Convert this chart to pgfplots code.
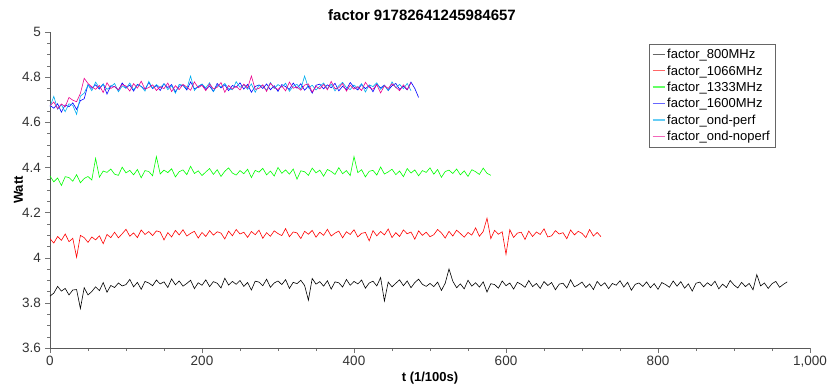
\documentclass[border=0pt]{standalone}
\usepackage{fontspec}
\setmainfont{Liberation Sans}
\usepackage{pgfplots}
\pgfplotsset{compat=1.18}
\begin{document}
\fontsize{12}{14}\selectfont
\begin{tikzpicture}
\begin{axis}[
 scale only axis, width=760pt, height=316pt,
 xmin=0, xmax=1000, ymin=3.6, ymax=5,
 axis lines=left, axis line style={-, draw=black!65},
 xtick={0,200,400,600,800,1000}, minor x tick num=3,
 ytick={3.6,3.8,4,4.2,4.4,4.6,4.8,5}, minor y tick num=3,
 tick align=outside, major tick length=5pt, minor tick length=3pt,
 every tick/.style={black!55},
 /pgf/number format/assume math mode=true,
 tick label style={font=\fontsize{13.5}{15}\selectfont, text=black!80},
 xticklabel style={yshift=1pt},
 title={\textbf{factor 91782641245984657}},
 title style={font=\fontsize{15}{17}\selectfont, yshift=1pt, xshift=-8pt},
 xlabel={\textbf{t (1/100s)}}, ylabel={\textbf{Watt}},
 label style={font=\fontsize{13}{15}\selectfont},
 xlabel style={at={(axis description cs:0.5,0)}, anchor=north, yshift=-20pt},
 ylabel style={at={(axis description cs:-0.03,0.5)}, anchor=south, rotate=0},
 legend style={at={(0.954,0.962)}, anchor=north east, draw=black!60,
   font=\fontsize{13}{15}\selectfont, row sep=1.2pt, inner sep=3pt},
 legend cell align=left,
 legend image code/.code={\draw[#1, line width=1.4pt, opacity=0.6] (0pt,0.5pt) -- (0.42cm,0.5pt);},
 every axis plot/.append style={line width=0.6pt, mark=none},
]
\addplot[color=black] coordinates {
(0,3.830)(5,3.843)(10,3.873)(15,3.852)(20,3.864)(25,3.835)(30,3.857)(35,3.859)(40,3.775)(45,3.867)
(50,3.835)(55,3.850)(60,3.871)(65,3.854)(70,3.890)(75,3.847)(80,3.877)(85,3.868)(90,3.888)(95,3.875)
(100,3.881)(105,3.904)(110,3.871)(115,3.891)(120,3.860)(125,3.895)(130,3.888)(135,3.876)(140,3.901)(145,3.884)
(150,3.893)(155,3.868)(160,3.906)(165,3.880)(170,3.897)(175,3.874)(180,3.886)(185,3.900)(190,3.863)(195,3.889)
(200,3.878)(205,3.902)(210,3.872)(215,3.894)(220,3.887)(225,3.866)(230,3.909)(235,3.879)(240,3.895)(245,3.882)
(250,3.899)(255,3.873)(260,3.890)(265,3.857)(270,3.896)(275,3.892)(280,3.876)(285,3.905)(290,3.869)(295,3.888)
(300,3.897)(305,3.881)(310,3.903)(315,3.864)(320,3.891)(325,3.885)(330,3.900)(335,3.877)(340,3.812)(345,3.908)
(350,3.883)(355,3.894)(360,3.874)(365,3.898)(370,3.861)(375,3.893)(380,3.889)(385,3.870)(390,3.904)(395,3.878)
(400,3.895)(405,3.884)(410,3.901)(415,3.865)(420,3.888)(425,3.896)(430,3.875)(435,3.912)(440,3.808)(445,3.892)
(450,3.871)(455,3.887)(460,3.902)(465,3.876)(470,3.897)(475,3.867)(480,3.890)(485,3.905)(490,3.882)(495,3.873)
(500,3.886)(505,3.872)(510,3.892)(515,3.855)(520,3.887)(525,3.950)(530,3.896)(535,3.867)(540,3.884)(545,3.862)
(550,3.900)(555,3.874)(560,3.889)(565,3.870)(570,3.893)(575,3.848)(580,3.885)(585,3.881)(590,3.865)(595,3.897)
(600,3.876)(605,3.888)(610,3.861)(615,3.891)(620,3.882)(625,3.869)(630,3.899)(635,3.872)(640,3.886)(645,3.864)
(650,3.894)(655,3.877)(660,3.890)(665,3.858)(670,3.883)(675,3.887)(680,3.866)(685,3.902)(690,3.871)(695,3.880)
(700,3.892)(705,3.868)(710,3.884)(715,3.859)(720,3.895)(725,3.875)(730,3.889)(735,3.863)(740,3.886)(745,3.878)
(750,3.898)(755,3.870)(760,3.891)(765,3.856)(770,3.882)(775,3.888)(780,3.873)(785,3.893)(790,3.867)(795,3.885)
(800,3.860)(805,3.890)(810,3.881)(815,3.869)(820,3.897)(825,3.874)(830,3.894)(835,3.865)(840,3.884)(845,3.852)
(850,3.887)(855,3.892)(860,3.871)(865,3.889)(870,3.876)(875,3.896)(880,3.862)(885,3.883)(890,3.868)(895,3.899)
(900,3.879)(905,3.866)(910,3.891)(915,3.872)(920,3.886)(925,3.858)(930,3.925)(935,3.875)(940,3.888)(945,3.864)
(950,3.885)(955,3.895)(960,3.869)(965,3.882)(970,3.893)
};
\addlegendentry{factor\_800MHz}
\addplot[color=red] coordinates {
(0,4.084)(5,4.065)(10,4.094)(15,4.077)(20,4.105)(25,4.071)(30,4.086)(35,4.002)(40,4.099)(45,4.089)
(50,4.068)(55,4.092)(60,4.079)(65,4.097)(70,4.062)(75,4.103)(80,4.089)(85,4.113)(90,4.088)(95,4.106)
(100,4.126)(105,4.095)(110,4.110)(115,4.089)(120,4.123)(125,4.103)(130,4.116)(135,4.098)(140,4.119)(145,4.114)
(150,4.079)(155,4.111)(160,4.092)(165,4.121)(170,4.101)(175,4.124)(180,4.096)(185,4.108)(190,4.117)(195,4.087)
(200,4.112)(205,4.094)(210,4.120)(215,4.100)(220,4.115)(225,4.109)(230,4.083)(235,4.118)(240,4.097)(245,4.125)
(250,4.105)(255,4.113)(260,4.090)(265,4.116)(270,4.102)(275,4.122)(280,4.086)(285,4.111)(290,4.095)(295,4.119)
(300,4.107)(305,4.098)(310,4.129)(315,4.093)(320,4.114)(325,4.110)(330,4.085)(335,4.117)(340,4.104)(345,4.121)
(350,4.091)(355,4.113)(360,4.099)(365,4.126)(370,4.096)(375,4.109)(380,4.118)(385,4.088)(390,4.115)(395,4.103)
(400,4.124)(405,4.092)(410,4.108)(415,4.112)(420,4.075)(425,4.120)(430,4.097)(435,4.116)(440,4.101)(445,4.127)
(450,4.089)(455,4.111)(460,4.094)(465,4.123)(470,4.106)(475,4.114)(480,4.082)(485,4.119)(490,4.099)(495,4.113)
(500,4.093)(505,4.102)(510,4.125)(515,4.110)(520,4.087)(525,4.117)(530,4.096)(535,4.122)(540,4.107)(545,4.091)
(550,4.112)(555,4.100)(560,4.132)(565,4.095)(570,4.116)(575,4.175)(580,4.085)(585,4.121)(590,4.104)(595,4.115)
(600,4.015)(605,4.124)(610,4.090)(615,4.109)(620,4.113)(625,4.081)(630,4.118)(635,4.094)(640,4.114)(645,4.103)
(650,4.128)(655,4.092)(660,4.097)(665,4.120)(670,4.105)(675,4.111)(680,4.084)(685,4.123)(690,4.101)(695,4.117)
(700,4.108)(705,4.089)(710,4.125)(715,4.096)(720,4.112)(725,4.093)
};
\addlegendentry{factor\_1066MHz}
\addplot[color=green] coordinates {
(0,4.362)(5,4.336)(10,4.353)(15,4.320)(20,4.359)(25,4.355)(30,4.339)(35,4.368)(40,4.332)(45,4.351)
(50,4.360)(55,4.344)(60,4.440)(65,4.357)(70,4.384)(75,4.378)(80,4.393)(85,4.370)(90,4.365)(95,4.401)
(100,4.376)(105,4.387)(110,4.367)(115,4.391)(120,4.354)(125,4.386)(130,4.382)(135,4.363)(140,4.448)(145,4.371)
(150,4.388)(155,4.377)(160,4.394)(165,4.358)(170,4.381)(175,4.389)(180,4.368)(185,4.405)(190,4.373)(195,4.385)
(200,4.364)(205,4.380)(210,4.395)(215,4.369)(220,4.390)(225,4.360)(230,4.383)(235,4.398)(240,4.375)(245,4.366)
(250,4.386)(255,4.372)(260,4.392)(265,4.355)(270,4.387)(275,4.379)(280,4.396)(285,4.367)(290,4.384)(295,4.362)
(300,4.400)(305,4.374)(310,4.389)(315,4.370)(320,4.393)(325,4.348)(330,4.385)(335,4.381)(340,4.365)(345,4.397)
(350,4.376)(355,4.388)(360,4.361)(365,4.391)(370,4.382)(375,4.369)(380,4.399)(385,4.372)(390,4.386)(395,4.364)
(400,4.448)(405,4.377)(410,4.390)(415,4.358)(420,4.383)(425,4.387)(430,4.366)(435,4.402)(440,4.371)(445,4.380)
(450,4.392)(455,4.368)(460,4.384)(465,4.359)(470,4.395)(475,4.375)(480,4.389)(485,4.363)(490,4.386)(495,4.378)
(500,4.398)(505,4.370)(510,4.391)(515,4.356)(520,4.382)(525,4.388)(530,4.373)(535,4.393)(540,4.367)(545,4.385)
(550,4.360)(555,4.390)(560,4.381)(565,4.369)(570,4.397)(575,4.374)(580,4.365)
};
\addlegendentry{factor\_1333MHz}
\addplot[color=blue] coordinates {
(0,4.676)(5,4.662)(10,4.682)(15,4.645)(20,4.677)(25,4.669)(30,4.686)(35,4.657)(40,4.696)(45,4.704)
(50,4.767)(55,4.751)(60,4.766)(65,4.747)(70,4.770)(75,4.725)(80,4.762)(85,4.758)(90,4.742)(95,4.774)
(100,4.753)(105,4.765)(110,4.738)(115,4.768)(120,4.759)(125,4.746)(130,4.776)(135,4.749)(140,4.763)(145,4.741)
(150,4.771)(155,4.754)(160,4.767)(165,4.735)(170,4.760)(175,4.764)(180,4.743)(185,4.779)(190,4.748)(195,4.757)
(200,4.769)(205,4.745)(210,4.761)(215,4.736)(220,4.772)(225,4.752)(230,4.766)(235,4.740)(240,4.763)(245,4.755)
(250,4.775)(255,4.747)(260,4.768)(265,4.733)(270,4.759)(275,4.765)(280,4.750)(285,4.770)(290,4.744)(295,4.762)
(300,4.737)(305,4.767)(310,4.758)(315,4.746)(320,4.774)(325,4.751)(330,4.771)(335,4.742)(340,4.761)(345,4.729)
(350,4.764)(355,4.769)(360,4.748)(365,4.766)(370,4.753)(375,4.773)(380,4.739)(385,4.760)(390,4.745)(395,4.776)
(400,4.756)(405,4.743)(410,4.768)(415,4.749)(420,4.763)(425,4.735)(430,4.770)(435,4.752)(440,4.765)(445,4.741)
(450,4.762)(455,4.772)(460,4.746)(465,4.759)(470,4.744)(475,4.778)(480,4.750)(485,4.710)
};
\addlegendentry{factor\_1600MHz}
\addplot[color=cyan] coordinates {
(0,4.668)(5,4.715)(10,4.658)(15,4.678)(20,4.647)(25,4.682)(30,4.675)(35,4.635)(40,4.716)(45,4.729)
(50,4.765)(55,4.740)(60,4.778)(65,4.752)(70,4.769)(75,4.746)(80,4.758)(85,4.772)(90,4.735)(95,4.761)
(100,4.750)(105,4.774)(110,4.744)(115,4.766)(120,4.759)(125,4.738)(130,4.781)(135,4.751)(140,4.767)(145,4.754)
(150,4.771)(155,4.745)(160,4.762)(165,4.729)(170,4.768)(175,4.764)(180,4.748)(185,4.805)(190,4.741)(195,4.760)
(200,4.769)(205,4.753)(210,4.775)(215,4.736)(220,4.763)(225,4.757)(230,4.772)(235,4.749)(240,4.744)(245,4.780)
(250,4.755)(255,4.766)(260,4.746)(265,4.770)(270,4.733)(275,4.765)(280,4.761)(285,4.742)(290,4.776)(295,4.750)
(300,4.767)(305,4.756)(310,4.773)(315,4.737)(320,4.760)(325,4.768)(330,4.747)(335,4.805)(340,4.752)(345,4.764)
(350,4.743)(355,4.759)(360,4.774)(365,4.748)(370,4.769)(375,4.739)(380,4.762)(385,4.777)(390,4.754)(395,4.745)
(400,4.765)(405,4.751)(410,4.771)(415,4.734)(420,4.766)(425,4.758)(430,4.775)(435,4.746)(440,4.763)(445,4.741)
(450,4.779)(455,4.753)(460,4.768)(465,4.749)(470,4.772)(475,4.740)
};
\addlegendentry{factor\_ond-perf}
\addplot[color=magenta] coordinates {
(0,4.673)(5,4.690)(10,4.660)(15,4.681)(20,4.669)(25,4.710)(30,4.698)(35,4.691)(40,4.728)(45,4.795)
(50,4.772)(55,4.757)(60,4.746)(65,4.763)(70,4.732)(75,4.775)(80,4.750)(85,4.759)(90,4.744)(95,4.767)
(100,4.761)(105,4.738)(110,4.771)(115,4.751)(120,4.782)(125,4.747)(130,4.754)(135,4.766)(140,4.741)(145,4.758)
(150,4.749)(155,4.774)(160,4.736)(165,4.762)(170,4.745)(175,4.768)(180,4.756)(185,4.742)(190,4.779)(195,4.753)
(200,4.764)(205,4.740)(210,4.770)(215,4.748)(220,4.755)(225,4.776)(230,4.733)(235,4.763)(240,4.747)(245,4.760)
(250,4.743)(255,4.769)(260,4.752)(265,4.805)(270,4.746)(275,4.750)(280,4.766)(285,4.737)(290,4.773)(295,4.754)
(300,4.745)(305,4.761)(310,4.739)(315,4.778)(320,4.751)(325,4.757)(330,4.742)(335,4.765)(340,4.770)(345,4.734)
(350,4.759)(355,4.748)(360,4.768)(365,4.744)(370,4.781)(375,4.749)(380,4.753)(385,4.772)(390,4.738)(395,4.764)
(400,4.747)(405,4.758)(410,4.741)(415,4.777)(420,4.754)(425,4.746)(430,4.767)(435,4.730)(440,4.762)(445,4.750)
(450,4.771)(455,4.755)(460,4.740)(465,4.766)(470,4.745)(475,4.775)
};
\addlegendentry{factor\_ond-noperf}
\end{axis}
\pgfresetboundingbox
\path ([xshift=-50pt,yshift=-35pt]current axis.south west) rectangle ([xshift=19pt,yshift=32pt]current axis.north east);
\end{tikzpicture}
\end{document}
